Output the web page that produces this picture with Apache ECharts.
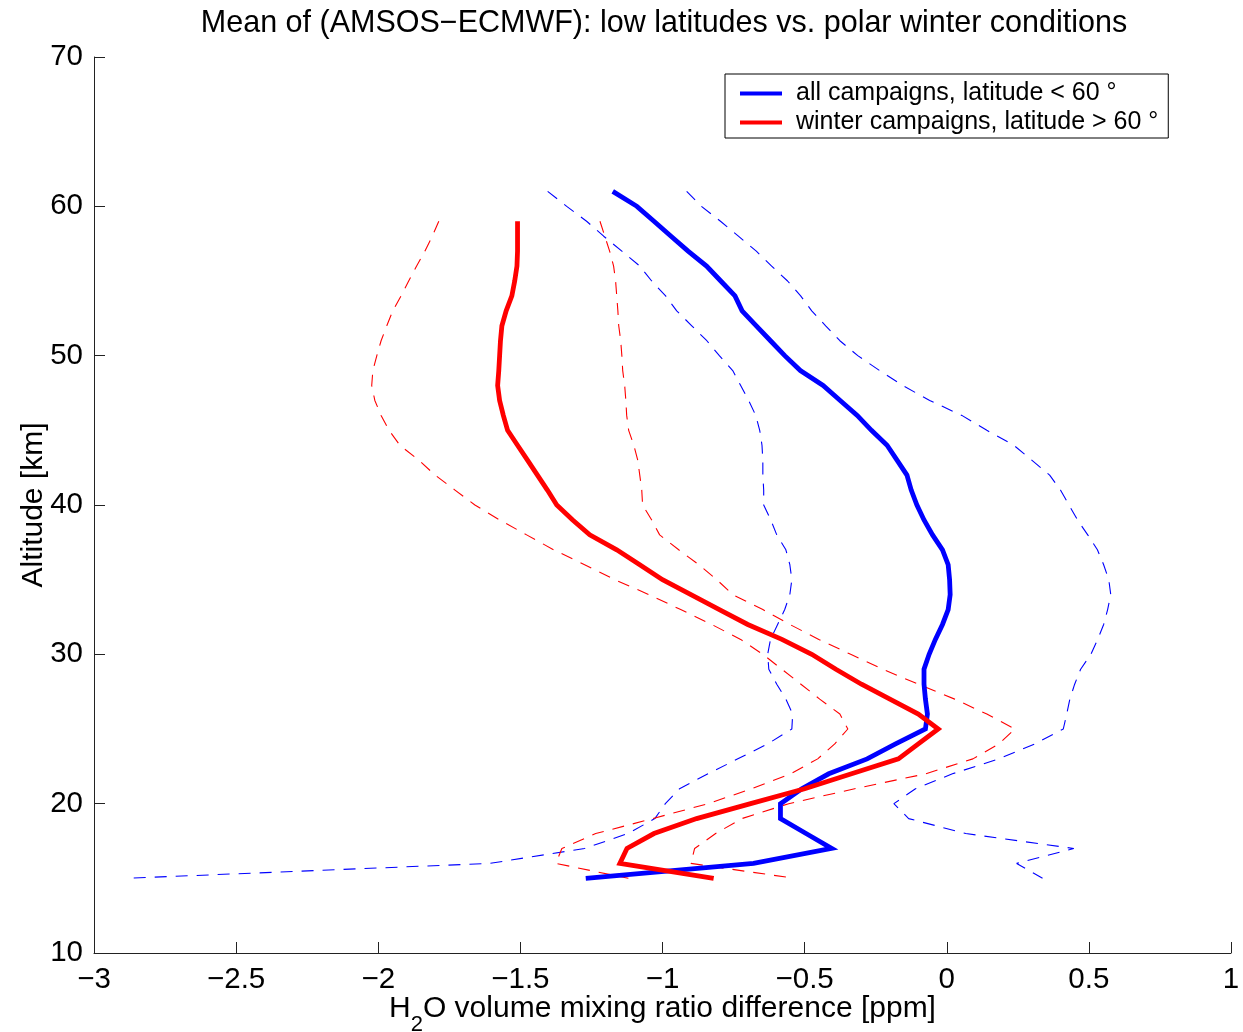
<!DOCTYPE html>
<html>
<head>
<meta charset="utf-8">
<title>Mean of (AMSOS−ECMWF)</title>
<script src="https://cdn.jsdelivr.net/npm/echarts@6/dist/echarts.min.js"></script>
<style>
  html, body { margin: 0; padding: 0; background: #ffffff; }
  #chart { width: 1243px; height: 1032px; }
</style>
</head>
<body>
<div id="chart"></div>
<script>
// Altitude levels [km]
const altLow = [61,60,59,58,57,56,55,54,53,52,51,50,49,48,47,46,45,44,43,42,41,40,39,38,37,36,35,34,33,32,31,30,29,28,27,26,25,24,23,22,21,20,19,18,17,16,15];
const altPolar = [59,58,57,56,55,54,53,52,51,50,49,48,47,46,45,44,43,42,41,40,39,38,37,36,35,34,33,32,31,30,29,28,27,26,25,24,23,22,21,20,19,18,17,16,15];

// all campaigns, latitude < 60°: mean difference and its lower / upper envelope [ppm]
const lowMean = [-1.175,-1.09,-1.03,-0.97,-0.91,-0.845,-0.795,-0.745,-0.72,-0.67,-0.62,-0.57,-0.515,-0.435,-0.375,-0.315,-0.265,-0.21,-0.175,-0.14,-0.125,-0.105,-0.08,-0.05,-0.015,0.005,0.01,0.012,0.005,-0.015,-0.04,-0.062,-0.08,-0.08,-0.075,-0.068,-0.075,-0.18,-0.28,-0.415,-0.51,-0.585,-0.585,-0.495,-0.405,-0.68,-1.27];
const lowMinus = [-1.404,-1.337,-1.267,-1.207,-1.143,-1.08,-1.038,-0.989,-0.95,-0.897,-0.844,-0.80,-0.753,-0.725,-0.697,-0.672,-0.658,-0.65,-0.647,-0.647,-0.644,-0.644,-0.619,-0.598,-0.566,-0.552,-0.545,-0.552,-0.57,-0.595,-0.62,-0.63,-0.626,-0.598,-0.566,-0.542,-0.545,-0.63,-0.735,-0.84,-0.94,-0.99,-1.027,-1.122,-1.274,-1.608,-2.888];
const lowPlus = [-0.915,-0.863,-0.796,-0.733,-0.67,-0.616,-0.56,-0.514,-0.475,-0.426,-0.376,-0.313,-0.236,-0.155,-0.06,0.053,0.141,0.236,0.299,0.362,0.40,0.43,0.46,0.496,0.53,0.552,0.57,0.577,0.566,0.552,0.531,0.507,0.471,0.45,0.433,0.422,0.41,0.31,0.183,0.02,-0.11,-0.186,-0.134,0.067,0.447,0.246,0.337];

// winter campaigns, latitude > 60°: mean difference and its lower / upper envelope [ppm]
const polarMean = [-1.51,-1.51,-1.51,-1.512,-1.52,-1.53,-1.55,-1.565,-1.57,-1.573,-1.576,-1.58,-1.573,-1.56,-1.545,-1.51,-1.475,-1.44,-1.405,-1.372,-1.316,-1.256,-1.161,-1.08,-1.0,-0.9,-0.80,-0.70,-0.58,-0.475,-0.39,-0.30,-0.20,-0.10,-0.03,-0.10,-0.17,-0.335,-0.50,-0.69,-0.88,-1.03,-1.125,-1.15,-0.82];
const polarMinus = [-1.787,-1.81,-1.836,-1.865,-1.893,-1.92,-1.949,-1.97,-1.99,-2.005,-2.019,-2.023,-2.012,-1.99,-1.962,-1.924,-1.857,-1.80,-1.73,-1.66,-1.573,-1.478,-1.383,-1.274,-1.168,-1.048,-0.936,-0.827,-0.725,-0.647,-0.58,-0.513,-0.447,-0.376,-0.348,-0.394,-0.454,-0.549,-0.686,-0.84,-1.034,-1.235,-1.354,-1.375,-1.12];
const polarPlus = [-1.22,-1.203,-1.186,-1.172,-1.165,-1.161,-1.157,-1.154,-1.147,-1.143,-1.14,-1.133,-1.129,-1.126,-1.119,-1.101,-1.087,-1.08,-1.073,-1.07,-1.038,-1.01,-0.943,-0.872,-0.809,-0.753,-0.647,-0.552,-0.45,-0.338,-0.225,-0.10,0.028,0.141,0.24,0.183,0.092,-0.074,-0.324,-0.556,-0.721,-0.813,-0.887,-0.90,-0.535];

// Axis ticks
const xTicks = { min: -3, max: 1, step: 0.5 };
const yTicks = { min: 10, max: 70, step: 10 };

const nameLow = 'all campaigns, latitude < 60 °';
const namePolar = 'winter campaigns, latitude > 60 °';

const FONT = '"Liberation Sans", Arial, Helvetica, sans-serif';
const BLUE = '#0000ff';
const RED = '#ff0000';

function profile(values, alts) {
  return values.map((v, i) => [v, alts[i]]);
}

function solid(name, values, alts, color) {
  return {
    name: name, type: 'line', data: profile(values, alts),
    showSymbol: false, symbol: 'none', smooth: false,
    lineStyle: { color: color, width: 4.8, cap: 'butt', join: 'miter' },
    itemStyle: { color: color },
    z: 3
  };
}

function dashed(values, alts, color) {
  return {
    type: 'line', data: profile(values, alts),
    showSymbol: false, symbol: 'none', smooth: false,
    lineStyle: { color: color, width: 1.1, type: [12, 9] },
    itemStyle: { color: color },
    z: 2
  };
}

const minus = s => String(s).replace('-', '\u2212');

const chart = echarts.init(document.getElementById('chart'), null, { renderer: 'canvas' });
chart.setOption({
  animation: false,
  backgroundColor: '#ffffff',
  textStyle: { fontFamily: FONT },
  title: {
    text: 'Mean of (AMSOS\u2212ECMWF): low latitudes vs. polar winter conditions',
    left: 664, top: 8, textAlign: 'center', padding: 0,
    textStyle: { fontFamily: FONT, fontSize: 30.5, fontWeight: 'normal', color: '#000' }
  },
  legend: {
    data: [nameLow, namePolar],
    orient: 'vertical', left: 725, top: 74,
    padding: [7, 10, 3, 15],
    borderColor: '#000', borderWidth: 1, backgroundColor: '#fff',
    icon: 'rect', itemWidth: 42, itemHeight: 4, itemGap: 4,
    textStyle: { fontFamily: FONT, fontSize: 25, color: '#000', lineHeight: 25, padding: [0, 0, 0, 9] }
  },
  grid: { left: 94, right: 12, top: 57, bottom: 79, outerBoundsMode: 'none', containLabel: false },
  xAxis: {
    type: 'value', min: xTicks.min, max: xTicks.max, interval: xTicks.step,
    name: '{n|H}{s|2}{n|O volume mixing ratio difference [ppm]}',
    nameLocation: 'middle', nameGap: 29, nameMoveOverlap: false,
    nameTextStyle: {
      color: '#000',
      rich: {
        n: { fontFamily: FONT, fontSize: 30, color: '#000' },
        s: { fontFamily: FONT, fontSize: 22, color: '#000', padding: [32, 0, 0, 0] }
      }
    },
    axisLine: { show: true, onZero: false, lineStyle: { color: '#222', width: 1 } },
    axisTick: { show: true, inside: true, length: 11, lineStyle: { color: '#222', width: 1 } },
    axisLabel: { fontFamily: FONT, fontSize: 29.5, color: '#000', margin: 12, formatter: minus },
    splitLine: { show: false }
  },
  yAxis: {
    type: 'value', min: yTicks.min, max: yTicks.max, interval: yTicks.step,
    name: 'Altitude [km]', nameLocation: 'middle', nameGap: 45, nameRotate: 90, nameMoveOverlap: false,
    nameTextStyle: { fontFamily: FONT, fontSize: 30, color: '#000' },
    axisLine: { show: true, onZero: false, lineStyle: { color: '#222', width: 1 } },
    axisTick: { show: true, inside: true, length: 11, lineStyle: { color: '#222', width: 1 } },
    axisLabel: { fontFamily: FONT, fontSize: 29.5, color: '#000', margin: 11 },
    splitLine: { show: false }
  },
  series: [
    dashed(lowMinus, altLow, BLUE),
    dashed(lowPlus, altLow, BLUE),
    dashed(polarMinus, altPolar, RED),
    dashed(polarPlus, altPolar, RED),
    solid(nameLow, lowMean, altLow, BLUE),
    solid(namePolar, polarMean, altPolar, RED)
  ]
});
</script>
</body>
</html>
